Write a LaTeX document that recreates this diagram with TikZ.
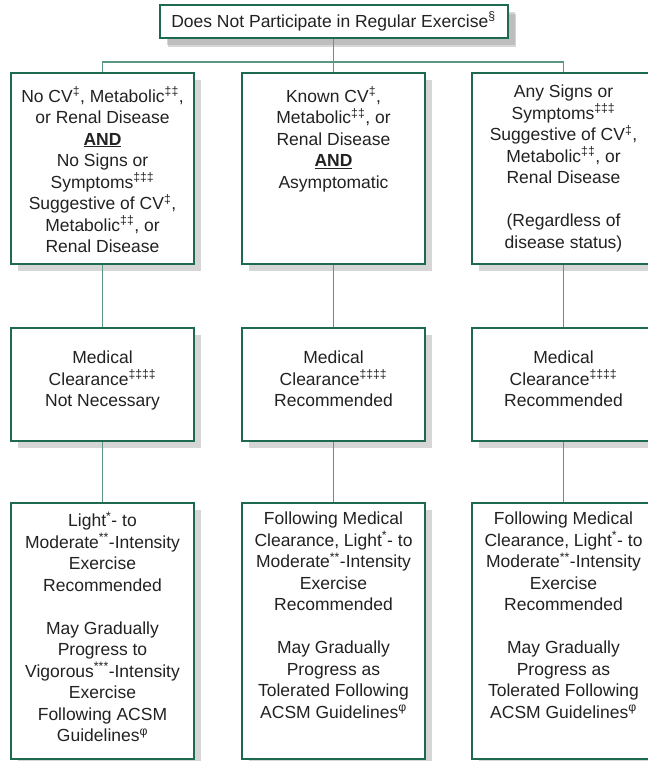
\documentclass[tikz,border=0pt]{standalone}
\usepackage{fontspec}
\setmainfont{Liberation Sans}
\usetikzlibrary{positioning,shadows}
\definecolor{ACSMgreen}{HTML}{1E6A50}
\definecolor{ACSMlink}{HTML}{5C9684}
\definecolor{ACSMtext}{HTML}{222222}
\newcommand{\fn}[1]{\textsuperscript{#1}}
\newcommand{\cell}[3]{\parbox[c][#1][t]{175pt}{\centering\vspace*{#2}#3}}
\tikzset{
  frame/.style={draw=ACSMgreen,line width=2pt,fill=white,inner sep=0pt,
    text=ACSMtext,font=\fontsize{17.5}{21.5}\selectfont,
    drop shadow={shadow xshift=7pt,shadow yshift=-7pt,fill=black!40,opacity=.4}},
  cond/.style={frame,minimum width=183pt,minimum height=191pt,anchor=north},
  clear/.style={frame,minimum width=183pt,minimum height=113pt,anchor=north},
  advice/.style={frame,minimum width=183pt,minimum height=256pt,anchor=north},
  link/.style={draw=ACSMlink,line width=1.2pt},
}
\begin{document}
\begin{tikzpicture}[x=1pt,y=1pt]
\useasboundingbox (0,0) rectangle (648,-761);
\clip (0,0) rectangle (648,-761);

\node[frame,minimum width=348pt,minimum height=33pt,
  drop shadow={shadow xshift=8pt,shadow yshift=-9pt,fill=black!40,opacity=.4}]
  (start) at (333.5,-21.5) {Does Not Participate in Regular Exercise\fn{§}};

% row 1
\node[cond] (cond1) at (102.5,-72) {\cell{191pt}{14pt}{No CV\fn{‡}, Metabolic\fn{‡‡},\\ or Renal Disease\\ \underline{\textbf{AND}}\\ No Signs or\\ Symptoms\fn{‡‡‡}\\ Suggestive of CV\fn{‡},\\ Metabolic\fn{‡‡}, or\\ Renal Disease}};
\node[cond] (cond2) at (333.5,-72) {\cell{191pt}{14pt}{Known CV\fn{‡},\\ Metabolic\fn{‡‡}, or\\ Renal Disease\\ \underline{\textbf{AND}}\\ Asymptomatic}};
\node[cond] (cond3) at (563.5,-72) {\cell{191pt}{12pt}{Any Signs or\\ Symptoms\fn{‡‡‡}\\ Suggestive of CV\fn{‡},\\ Metabolic\fn{‡‡}, or\\ Renal Disease\\[21.5pt] (Regardless of\\ disease status)}};

% row 2
\node[clear] (clear1) at (102.5,-327) {\cell{113pt}{23pt}{Medical\\ Clearance\fn{‡‡‡‡}\\ Not Necessary}};
\node[clear] (clear2) at (333.5,-327) {\cell{113pt}{23pt}{Medical\\ Clearance\fn{‡‡‡‡}\\ Recommended}};
\node[clear] (clear3) at (563.5,-327) {\cell{113pt}{23pt}{Medical\\ Clearance\fn{‡‡‡‡}\\ Recommended}};

% row 3
\node[advice] (ex1) at (102.5,-502) {\cell{256pt}{9pt}{Light\fn{*}- to\\ Moderate\fn{**}-Intensity\\ Exercise\\ Recommended\\[21.5pt] May Gradually\\ Progress to\\ Vigorous\fn{***}-Intensity\\ Exercise\\ Following ACSM\\ Guidelines\fn{φ}}};
\node[advice] (ex2) at (333.5,-502) {\cell{256pt}{9pt}{Following Medical\\ Clearance, Light\fn{*}- to\\ Moderate\fn{**}-Intensity\\ Exercise\\ Recommended\\[21.5pt] May Gradually\\ Progress as\\ Tolerated Following\\ ACSM Guidelines\fn{φ}}};
\node[advice] (ex3) at (563.5,-502) {\cell{256pt}{9pt}{Following Medical\\ Clearance, Light\fn{*}- to\\ Moderate\fn{**}-Intensity\\ Exercise\\ Recommended\\[21.5pt] May Gradually\\ Progress as\\ Tolerated Following\\ ACSM Guidelines\fn{φ}}};

% connectors
\path[link] (start.south) -- ++(0,-23) coordinate (bus);
\path[link] (bus) -| (cond1.north);
\path[link] (bus) -| (cond3.north);
\path[link] (bus) -- (cond2.north);
\foreach \c in {1,2,3}{
  \path[link] (cond\c.south) -- (clear\c.north);
  \path[link] (clear\c.south) -- (ex\c.north);
}
\end{tikzpicture}
\end{document}
